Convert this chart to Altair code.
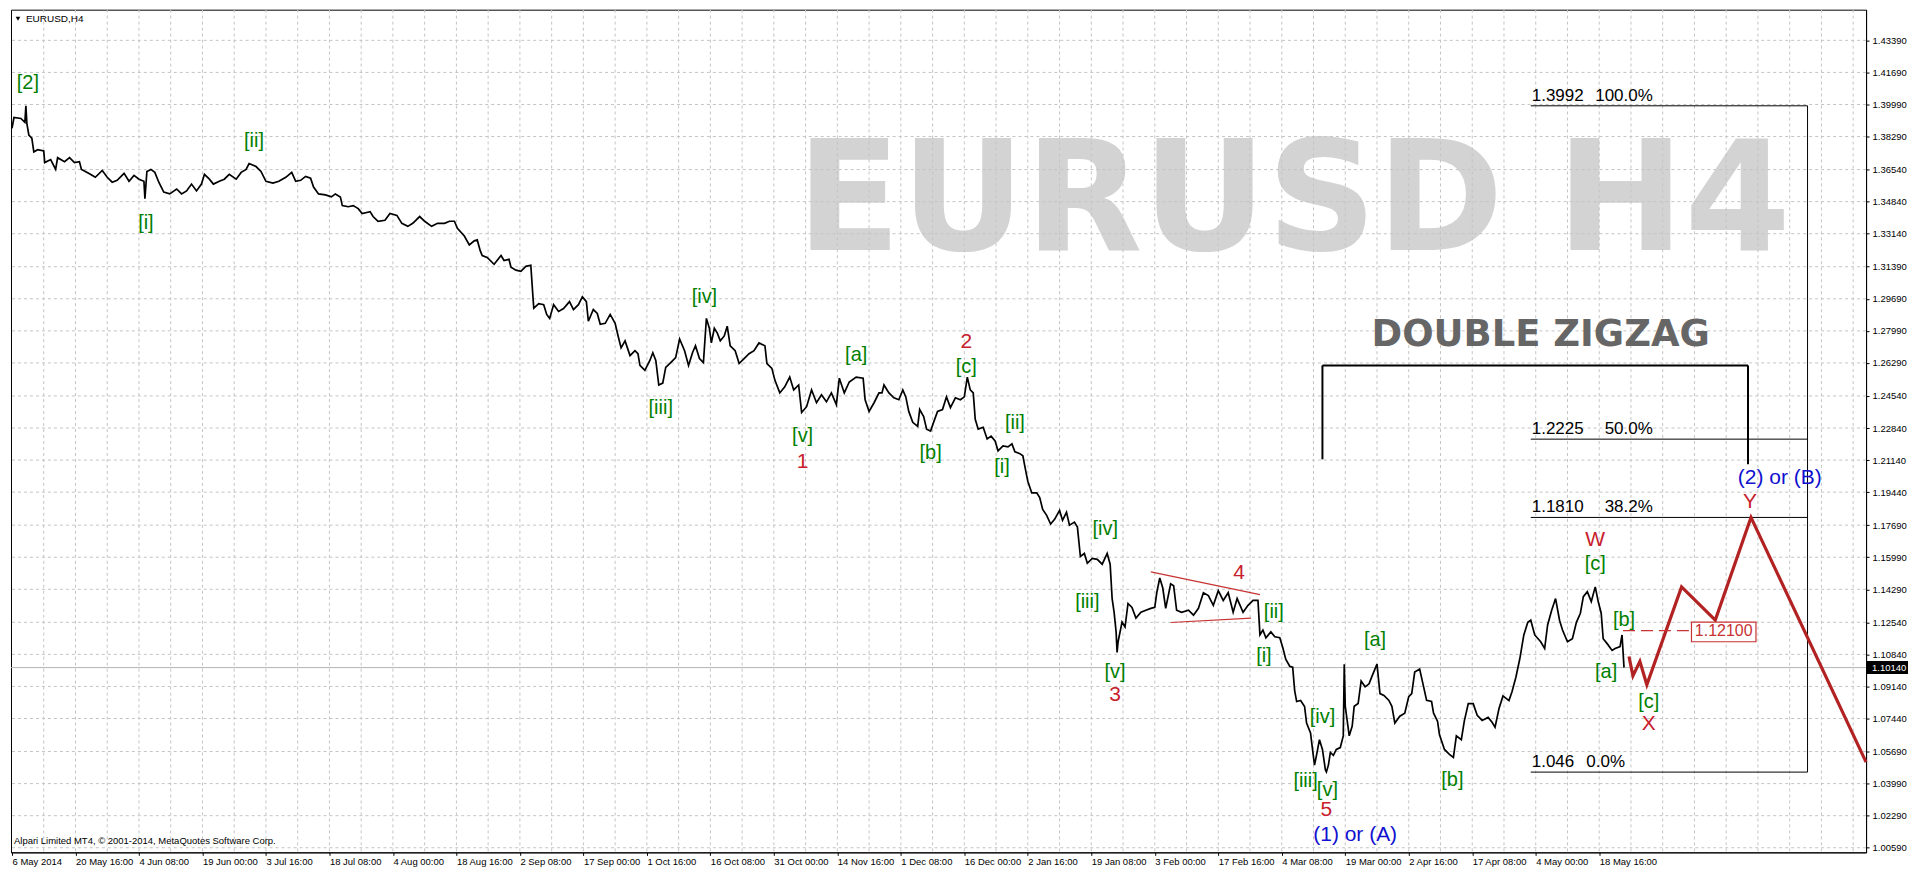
import json
import altair as alt
import pandas as pd

# ---------------- data ----------------
Y_TICKS = [1.43390, 1.41690, 1.39990, 1.38290, 1.36540, 1.34840, 1.33140, 1.31390,
           1.29690, 1.27990, 1.26290, 1.24540, 1.22840, 1.21140, 1.19440, 1.17690,
           1.15990, 1.14290, 1.12540, 1.10840, 1.09140, 1.07440, 1.05690, 1.03990,
           1.02290, 1.00590]
X_LABELS = ["6 May 2014", "20 May 16:00", "4 Jun 08:00", "19 Jun 00:00", "3 Jul 16:00",
            "18 Jul 08:00", "4 Aug 00:00", "18 Aug 16:00", "2 Sep 08:00", "17 Sep 00:00",
            "1 Oct 16:00", "16 Oct 08:00", "31 Oct 00:00", "14 Nov 16:00", "1 Dec 08:00",
            "16 Dec 00:00", "2 Jan 16:00", "19 Jan 08:00", "3 Feb 00:00", "17 Feb 16:00",
            "4 Mar 08:00", "19 Mar 00:00", "2 Apr 16:00", "17 Apr 08:00", "4 May 00:00",
            "18 May 16:00"]
BARS_PER_LABEL = 64
BARS_PER_GRID = 32
LAST_BAR = 1869
CURRENT_PRICE = 1.10140
ALERT_PRICE = 1.12100

# (bar index, price) of the H4 price path
PATH_A = [(0,1.3873),(2,1.3930),(9,1.3925),(13,1.3904),(14,1.3992),(15,1.3899),(17,1.3837),(20,1.3821),(22,1.3748),(26,1.3759),
          (32,1.3753),(33,1.3691),(39,1.3707),(44,1.3655),(46,1.3717),(53,1.3696),(58,1.3717),(63,1.3691),(68,1.3696),(70,1.3655),
          (74,1.3644),(79,1.3629),(84,1.3613),(91,1.3649),(96,1.3613),(101,1.3587),(106,1.3597),(113,1.3634),(118,1.3592),(123,1.3623),
          (128,1.3603),(133,1.3592),(134,1.3499),(136,1.3644),(140,1.3655),(144,1.3639),(148,1.3587),(153,1.3535),(159,1.3525),(166,1.3551),
          (171,1.3525),(176,1.3541),(181,1.3577),(186,1.3541),(191,1.3577),(194,1.3629),(199,1.3603),(203,1.3577),(209,1.3592),(214,1.3603),
          (219,1.3629),(226,1.3603),(231,1.3639),(236,1.3655),(239,1.3686),(246,1.3670),(251,1.3644),(256,1.3592),(263,1.3582),(269,1.3592),
          (276,1.3613),(282,1.3639),(286,1.3592),(291,1.3597),(296,1.3618),(301,1.3608),(304,1.3561),(309,1.3525),(316,1.3520),(322,1.3509),
          (326,1.3525),(331,1.3509),(333,1.3463),(339,1.3457),(344,1.3463),(349,1.3447),(353,1.3421),(361,1.3431),(364,1.3405),(369,1.3380),
          (376,1.3385),(381,1.3421),(388,1.3411),(393,1.3369),(399,1.3353),(404,1.3369),(411,1.3405),(416,1.3380),(423,1.3353),(429,1.3369),
          (436,1.3369),(441,1.3380),(446,1.3380),(449,1.3343),(456,1.3302),(461,1.3255),(466,1.3276),(469,1.3281),(472,1.3224),(474,1.3198)]
PATH_B = [(479,1.3188),(486,1.3152),(493,1.3198),(496,1.3172),(501,1.3178),(503,1.3136),(508,1.3121),(513,1.3115),(518,1.3141),(523,1.3147),
          (525,1.2991),(526,1.2919),(531,1.2943),(536,1.2938),(539,1.2886),(542,1.2865),(546,1.2938),(551,1.2902),(556,1.2917),(562,1.2954),
          (566,1.2912),(571,1.2938),(575,1.2980),(579,1.2954),(581,1.2850),(586,1.2912),(590,1.2891),(593,1.2834),(598,1.2839),(603,1.2886),
          (608,1.2839),(611,1.2772),(614,1.2709),(618,1.2746),(623,1.2668),(628,1.2694),(631,1.2678),(633,1.2616),(638,1.2590),(643,1.2642),
          (646,1.2683),(649,1.2642),(652,1.2512),(656,1.2522),(659,1.2605),(664,1.2631),(669,1.2657),(673,1.2756),(678,1.2694),(682,1.2616),
          (686,1.2683),(689,1.2720),(693,1.2652),(697,1.2631),(700,1.2865),(703,1.2813),(705,1.2735),(708,1.2813),(711,1.2787),(714,1.2746),
          (718,1.2772),(721,1.2824),(724,1.2720),(729,1.2694),(733,1.2626),(738,1.2652),(743,1.2678),(748,1.2694),(753,1.2735),(759,1.2720),
          (761,1.2626),(766,1.2600),(769,1.2538),(774,1.2470),(779,1.2502),(784,1.2554),(788,1.2486),(793,1.2512),(796,1.2366),(801,1.2397),
          (806,1.2486),(811,1.2418),(816,1.2460),(821,1.2423),(826,1.2470),(831,1.2408),(834,1.2548),(839,1.2470),(844,1.2528),(851,1.2554),
          (858,1.2548),(860,1.2434),(864,1.2372),(869,1.2418),(874,1.2470)]
PATH_C = [(877,1.2470),(879,1.2512),(884,1.2470),(889,1.2444),(894,1.2434),(898,1.2486),(901,1.2449),(904,1.2372),(908,1.2314),(913,1.2293),
          (915,1.2382),(919,1.2345),(922,1.2278),(926,1.2268),(929,1.2314),(933,1.2372),(938,1.2382),(942,1.2449),(946,1.2392),(951,1.2444),
          (956,1.2434),(960,1.2449),(963,1.2554),(966,1.2486),(969,1.2470),(971,1.2330),(974,1.2278),(979,1.2288),(983,1.2226),(987,1.2241),
          (991,1.2215),(994,1.2163),(999,1.2189),(1004,1.2184),(1008,1.2200),(1011,1.2158),(1016,1.2148),(1019,1.2137),(1022,1.2054),(1024,1.2002),
          (1028,1.1940),(1033,1.1940),(1036,1.1915),(1039,1.1852),(1043,1.1821),(1047,1.1775),(1051,1.1800),(1056,1.1847),(1059,1.1795),(1063,1.1837),
          (1066,1.1769),(1071,1.1785),(1074,1.1759),(1077,1.1603),(1081,1.1619),(1084,1.1567),(1089,1.1593),(1094,1.1588),(1099,1.1562),(1104,1.1619),
          (1107,1.1562),(1109,1.1380),(1111,1.1307),(1113,1.1203),(1114,1.1094),(1115,1.1151),(1119,1.1255),(1122,1.1229),(1125,1.1354),(1129,1.1333),
          (1133,1.1276),(1138,1.1307),(1143,1.1318),(1148,1.1328),(1152,1.1333),(1154,1.1411),(1157,1.1489),(1160,1.1437),(1163,1.1328),(1168,1.1458),
          (1171,1.1448),(1174,1.1318),(1179,1.1307),(1186,1.1318),(1191,1.1292),(1196,1.1328),(1201,1.1411),(1206,1.1396),(1211,1.1344),(1216,1.1422),
          (1221,1.1370),(1226,1.1411),(1231,1.1307),(1235,1.1380),(1241,1.1307),(1246,1.1344),(1251,1.1370),(1256,1.1370)]
PATH_D = [(1258,1.1188),(1261,1.1213),(1264,1.1172),(1269,1.1203),(1273,1.1177),(1278,1.1172),(1281,1.1120),(1284,1.1058),(1288,1.1021),(1291,1.1016),
          (1293,1.0892),(1295,1.0834),(1299,1.0840),(1303,1.0808),(1305,1.0720),(1309,1.0668),(1311,1.0580),(1313,1.0497),(1315,1.0549),(1318,1.0632),
          (1321,1.0580),(1324,1.0471),(1325,1.0461),(1327,1.0497),(1329,1.0564),(1332,1.0549),(1335,1.0580),(1339,1.0590),(1342,1.0652),(1343,1.1032),
          (1344,1.0809),(1348,1.0652),(1351,1.0704),(1353,1.0809),(1357,1.0824),(1360,1.0943),(1364,1.0912),(1368,1.0928),(1371,1.0969),(1376,1.1032),
          (1379,1.0876),(1383,1.0866),(1388,1.0840),(1391,1.0809),(1394,1.0720),(1399,1.0756),(1404,1.0772),(1408,1.0860),(1411,1.0876),(1414,1.0990),
          (1419,1.1006),(1423,1.0912),(1426,1.0840),(1431,1.0834),(1433,1.0772),(1437,1.0730),(1439,1.0658),(1444,1.0580),(1449,1.0554),(1453,1.0538),
          (1456,1.0652),(1461,1.0632),(1464,1.0730)]
PATH_E = [(1468,1.0823),(1473,1.0823),(1477,1.0761),(1482,1.0734),(1488,1.0750),(1492,1.0724),(1495,1.0698),(1499,1.0797),(1503,1.0864),(1509,1.0839),
          (1512,1.0885),(1516,1.0963),(1520,1.1062),(1524,1.1187),(1528,1.1254),(1531,1.1265),(1535,1.1187),(1541,1.1151),(1545,1.1115),(1548,1.1240),
          (1552,1.1317),(1556,1.1380),(1560,1.1265),(1563,1.1213),(1568,1.1151),(1573,1.1167),(1577,1.1254),(1581,1.1302),(1584,1.1390),(1588,1.1416),
          (1592,1.1364),(1596,1.1442),(1599,1.1364),(1602,1.1302),(1604,1.1167),(1608,1.1141),(1613,1.1105),(1616,1.1115),(1621,1.1125),(1623,1.1187),
          (1625,1.1014)]

# projected double zigzag path (bar, price)
PROJECTION = [(1630,1.1073),(1634,1.0970),(1641,1.1047),(1648,1.0923),(1683,1.1442),(1717,1.1266),(1753,1.1810),(1869,1.0513)]

# Fibonacci retracement levels
FIB_PRICES = [1.3992, 1.2225, 1.1810, 1.0460]
FIB_VALUES = ["1.3992", "1.2225", "1.1810", "1.046"]
FIB_PCTS = ["100.0%", "50.0%", "38.2%", "0.0%"]
FIB_START, FIB_END = 1531, 1810
FIB_PCT_END = [1654, 1654, 1654, 1626]

# triangle (wave 4) boundary lines: (bar1, price1, bar2, price2)
TRIANGLE = [(1148, 1.1521, 1258, 1.1401), (1168, 1.1253, 1249, 1.1276)]

# "DOUBLE ZIGZAG" bracket
BRACKET_BARS = [1321, 1750]
BRACKET_TOP = 1.2616
BRACKET_BOTTOMS = [1.2118, 1.2092]

# alert line / price box
ALERT_FROM, ALERT_BOX = 1624, (1693, 1758, 1.1255, 1.1151)

# wave labels: (text, bar, price, kind)
WAVE_LABELS = [
    ("[2]", 16, 1.4112, "g"), ("[i]", 135, 1.3369, "g"), ("[ii]", 244, 1.3805, "g"),
    ("[iii]", 654, 1.2388, "g"), ("[iv]", 698, 1.2979, "g"), ("[v]", 797, 1.2239, "g"),
    ("1", 797, 1.2102, "r"), ("[a]", 851, 1.2673, "g"), ("[b]", 926, 1.2154, "g"),
    ("[c]", 962, 1.2609, "g"), ("2", 962, 1.2741, "r"), ("[i]", 998, 1.2076, "g"),
    ("[ii]", 1011, 1.2310, "g"), ("[iii]", 1084, 1.1359, "g"), ("[iv]", 1102, 1.1749, "g"),
    ("[v]", 1112, 1.0990, "g"), ("3", 1112, 1.0871, "r"), ("4", 1237, 1.1515, "r"),
    ("[i]", 1262, 1.1073, "g"), ("[ii]", 1272, 1.1307, "g"), ("[iii]", 1304, 1.0413, "g"),
    ("[iv]", 1321, 1.0751, "g"), ("[v]", 1326, 1.0366, "g"), ("5", 1325, 1.0258, "r"),
    ("(1) or (A)", 1354, 1.0128, "b"), ("[a]", 1374, 1.1161, "g"), ("[b]", 1452, 1.0419, "g"),
    ("[c]", 1596, 1.1565, "g"), ("W", 1596, 1.1692, "r"), ("[a]", 1607, 1.0988, "g"),
    ("[b]", 1625, 1.1266, "g"), ("[c]", 1650, 1.0829, "g"), ("X", 1650, 1.0715, "r"),
    ("Y", 1752, 1.1894, "r"), ("(2) or (B)", 1782, 1.2019, "b"),
]

WATERMARK = ("EURUSD H4", 1292, 1.3229)
HEADLINE = ("DOUBLE ZIGZAG", 1541, 1.2777)

# ---------------- styling ----------------
FONT = "Liberation Sans"
BOLD_FONT = "DejaVu Sans"
W, H = 1858, 844
COLORS = {"g": "#008000", "r": "#C8202C", "b": "#1010D0"}
SIZES = {"g": 20, "r": 21, "b": 21}
GRID_COLOR = "#C4C4C4"
RED = "#B22222"

x_scale = alt.Scale(domain=[-1, LAST_BAR], nice=False, zero=False)
y_scale = alt.Scale(domain=[1.00346, 1.45016], nice=False, zero=False)

label_expr = json.dumps(X_LABELS) + f"[round(datum.value / {BARS_PER_LABEL})]"
x_axis = alt.Axis(values=[i * BARS_PER_LABEL for i in range(len(X_LABELS))],
                  labelExpr=label_expr, title=None, grid=False, labelAlign="left",
                  labelPadding=1, tickSize=3, labelFont=FONT, labelFontSize=9.5,
                  labelColor="black", domainColor="black", tickColor="black",
                  labelOverlap=False, labelBound=False, labelFlush=False)
y_axis = alt.Axis(values=Y_TICKS, format=".5f", orient="right", title=None, grid=False,
                  tickSize=3, labelPadding=3, labelFont=FONT, labelFontSize=9.5,
                  labelColor="black", domainColor="black", tickColor="black",
                  labelOverlap=False, labelBound=False, labelFlush=False)


def X(field="bar"):
    return alt.X(f"{field}:Q", scale=x_scale, axis=x_axis)


def Y(field="price"):
    return alt.Y(f"{field}:Q", scale=y_scale, axis=y_axis)


path = PATH_A + PATH_B + PATH_C + PATH_D + PATH_E
df_price = pd.DataFrame(path, columns=["bar", "price"])
df_proj = pd.DataFrame(PROJECTION, columns=["bar", "price"])

layers = []

# watermark
layers.append(alt.Chart(pd.DataFrame([{"t": WATERMARK[0], "bar": WATERMARK[1], "price": WATERMARK[2]}]))
              .mark_text(font=BOLD_FONT, fontWeight="bold", fontSize=153, color="#D3D3D3",
                         align="center", baseline="alphabetic")
              .encode(x=X(), y=Y(), text="t:N"))

# grid
grid_x = pd.DataFrame({"bar": list(range(BARS_PER_GRID, LAST_BAR, BARS_PER_GRID))})
layers.append(alt.Chart(grid_x).mark_rule(color=GRID_COLOR, strokeDash=[3, 3], strokeWidth=1)
              .encode(x=X()))
grid_y = pd.DataFrame({"price": Y_TICKS})
layers.append(alt.Chart(grid_y).mark_rule(color=GRID_COLOR, strokeDash=[3, 3], strokeWidth=1)
              .encode(y=Y()))

# current price line
layers.append(alt.Chart(pd.DataFrame({"price": [CURRENT_PRICE]}))
              .mark_rule(color="#B4B4B4", strokeWidth=1).encode(y=Y()))

# DOUBLE ZIGZAG headline & bracket
layers.append(alt.Chart(pd.DataFrame([{"t": HEADLINE[0], "bar": HEADLINE[1], "price": HEADLINE[2]}]))
              .mark_text(font=BOLD_FONT, fontWeight="bold", fontSize=37, color="#666666",
                         align="center", baseline="middle")
              .encode(x=X(), y=Y(), text="t:N"))
bracket = pd.DataFrame([
    {"bar": BRACKET_BARS[0], "bar2": BRACKET_BARS[1], "price": BRACKET_TOP, "price2": BRACKET_TOP},
    {"bar": BRACKET_BARS[0], "bar2": BRACKET_BARS[0], "price": BRACKET_TOP, "price2": BRACKET_BOTTOMS[0]},
    {"bar": BRACKET_BARS[1], "bar2": BRACKET_BARS[1], "price": BRACKET_TOP, "price2": BRACKET_BOTTOMS[1]},
])
layers.append(alt.Chart(bracket).mark_rule(color="black", strokeWidth=2)
              .encode(x=X(), x2="bar2:Q", y=Y(), y2="price2:Q"))

# Fibonacci
fib_h = pd.DataFrame({"bar": [FIB_START] * 4, "bar2": [FIB_END] * 4,
                      "price": FIB_PRICES, "price2": FIB_PRICES})
fib_v = pd.DataFrame({"bar": [FIB_END], "bar2": [FIB_END],
                      "price": [FIB_PRICES[0]], "price2": [FIB_PRICES[-1]]})
layers.append(alt.Chart(pd.concat([fib_h, fib_v])).mark_rule(color="black", strokeWidth=1)
              .encode(x=X(), x2="bar2:Q", y=Y(), y2="price2:Q"))
fib_txt = pd.DataFrame({"bar": [FIB_START + 1] * 4, "price": FIB_PRICES, "t": FIB_VALUES})
layers.append(alt.Chart(fib_txt).mark_text(font=FONT, fontSize=17, color="black", align="left",
                                           baseline="alphabetic", dy=-5)
              .encode(x=X(), y=Y(), text="t:N"))
fib_pct = pd.DataFrame({"bar": FIB_PCT_END, "price": FIB_PRICES, "t": FIB_PCTS})
layers.append(alt.Chart(fib_pct).mark_text(font=FONT, fontSize=17, color="black", align="right",
                                           baseline="alphabetic", dy=-5)
              .encode(x=X(), y=Y(), text="t:N"))

# triangle lines
tri = pd.DataFrame(TRIANGLE, columns=["bar", "price", "bar2", "price2"])
layers.append(alt.Chart(tri).mark_rule(color="#C83232", strokeWidth=1.2)
              .encode(x=X(), x2="bar2:Q", y=Y(), y2="price2:Q"))

# price path
layers.append(alt.Chart(df_price).mark_line(color="black", strokeWidth=1.7, interpolate="linear")
              .encode(x=X(), y=Y(), order="bar:Q"))

# projection
layers.append(alt.Chart(df_proj).mark_line(color=RED, strokeWidth=3.2)
              .encode(x=X(), y=Y(), order="bar:Q"))

# alert line & box
layers.append(alt.Chart(pd.DataFrame({"bar": [ALERT_FROM], "bar2": [ALERT_BOX[0]], "price": [ALERT_PRICE]}))
              .mark_rule(color="#C83232", strokeWidth=1.2, strokeDash=[12, 6])
              .encode(x=X(), x2="bar2:Q", y=Y()))
layers.append(alt.Chart(pd.DataFrame([{"bar": ALERT_BOX[0], "bar2": ALERT_BOX[1],
                                       "price": ALERT_BOX[2], "price2": ALERT_BOX[3]}]))
              .mark_rect(fill="white", stroke="#C83232", strokeWidth=1.2)
              .encode(x=X(), x2="bar2:Q", y=Y(), y2="price2:Q"))
layers.append(alt.Chart(pd.DataFrame([{"bar": (ALERT_BOX[0] + ALERT_BOX[1]) / 2, "price": ALERT_PRICE,
                                       "t": f"{ALERT_PRICE:.5f}"}]))
              .mark_text(font=FONT, fontSize=16, color="#C83232", align="center", baseline="middle")
              .encode(x=X(), y=Y(), text="t:N"))

# wave labels
lab = pd.DataFrame(WAVE_LABELS, columns=["t", "bar", "price", "kind"])
lab["color"] = lab["kind"].map(COLORS)
lab["size"] = lab["kind"].map(SIZES)
layers.append(alt.Chart(lab).mark_text(font=FONT, align="center", baseline="middle")
              .encode(x=X(), y=Y(), text="t:N",
                      color=alt.Color("color:N", scale=None),
                      size=alt.Size("size:Q", scale=None)))

# current price tag on the axis
tag = pd.DataFrame({"price": [CURRENT_PRICE], "t": [f"{CURRENT_PRICE:.5f}"]})
layers.append(alt.Chart(tag).mark_tick(orient="horizontal", size=42, thickness=13, color="black", opacity=1)
              .encode(x=alt.value(W + 21), y=Y()))
layers.append(alt.Chart(tag).mark_text(font=FONT, fontSize=9.5, color="white", align="left", baseline="middle")
              .encode(x=alt.value(W + 6), y=Y(), text="t:N"))

# header & footer texts
layers.append(alt.Chart(pd.DataFrame({"t": ["EURUSD,H4"]}))
              .mark_text(font=FONT, fontSize=10, color="black", align="left", baseline="middle")
              .encode(x=alt.value(15), y=alt.value(9), text="t:N"))
layers.append(alt.Chart(pd.DataFrame({"t": ["v"]}))
              .mark_point(shape="triangle-down", filled=True, size=22, color="black", opacity=1)
              .encode(x=alt.value(7), y=alt.value(9)))
layers.append(alt.Chart(pd.DataFrame({"t": ["Alpari Limited MT4, \u00a9 2001-2014, MetaQuotes Software Corp."]}))
              .mark_text(font=FONT, fontSize=9.5, color="black", align="left", baseline="middle")
              .encode(x=alt.value(3), y=alt.value(H - 11), text="t:N"))

chart = (alt.layer(*layers)
         .properties(width=W, height=H, padding=0, background="white")
         .configure_view(stroke="black", strokeWidth=1)
         .configure_axis(labelFont=FONT))

chart.save("out.html", embed_options={"renderer": "svg", "actions": False})
